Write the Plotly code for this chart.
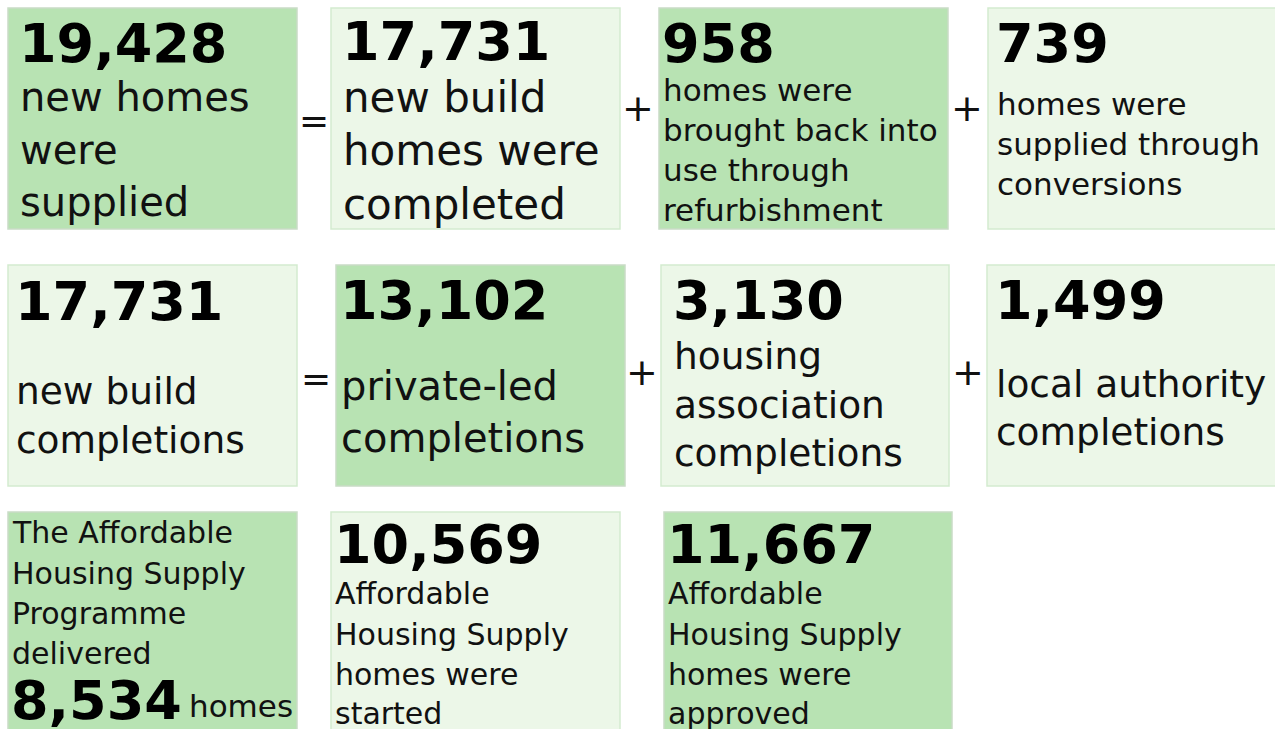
import plotly.graph_objects as go

# ---------------- data ----------------
numbers = ["19,428", "17,731", "958", "739",
           "17,731", "13,102", "3,130", "1,499",
           "8,534", "10,569", "11,667"]
labels = [
    ["new homes", "were", "supplied"],
    ["new build", "homes were", "completed"],
    ["homes were", "brought back into", "use through", "refurbishment"],
    ["homes were", "supplied through", "conversions"],
    ["new build", "completions"],
    ["private-led", "completions"],
    ["housing", "association", "completions"],
    ["local authority", "completions"],
    ["The Affordable", "Housing Supply", "Programme", "delivered"],
    ["Affordable", "Housing Supply", "homes were", "started"],
    ["Affordable", "Housing Supply", "homes were", "approved"],
]
suffix_8534 = "homes"
operators = ["=", "+", "+", "=", "+", "+"]

# ---------------- layout (positions / styles) ----------------
DARK = "#b8e3b3"
LIGHT = "#ecf7e8"
DARK_LINE = "#c9dcc6"
LIGHT_LINE = "#d3ebcf"

boxes = [  # x0, x1, y0, y1, dark?
    (8, 297, 8, 229, True), (331, 620, 8, 229, False),
    (659, 948, 8, 229, True), (988, 1290, 8, 229, False),
    (8, 297, 265, 486, False), (336, 625, 265, 486, True),
    (661, 949, 265, 486, False), (987, 1290, 265, 486, False),
    (8, 297, 512, 750, True), (331, 620, 512, 750, False),
    (664, 952, 512, 750, True),
]
text_x = [20, 343, 663, 997, 16, 341, 674, 996, 12, 335, 668]
num_y = [43, 41, 43, 43, 301, 300, 300, 300, 700, 544, 544]
line_y = [
    [97, 150, 202], [97, 150, 204], [90, 130, 170, 210], [104, 144, 184],
    [391, 440], [386, 438], [356, 405, 453], [384, 432],
    [532, 573, 613, 653], [593, 634, 674, 713], [593, 634, 674, 713],
]
label_size = [40, 42, 31, 31, 37.5, 40, 37.5, 37.5, 30, 30, 30]
NUM_SIZE = 54
op_pos = [(314, 120), (638, 108), (967, 108), (316, 378), (642, 372), (968, 372)]
op_size = [36, 38, 38, 36, 38, 38]
FONT = "DejaVu Sans"

fig = go.Figure()
shapes = []
annotations = []
for i, (x0, x1, y0, y1, dark) in enumerate(boxes):
    shapes.append(dict(type="rect", x0=x0, x1=x1, y0=y0, y1=y1, xref="x", yref="y",
                       fillcolor=DARK if dark else LIGHT,
                       line=dict(color=DARK_LINE if dark else LIGHT_LINE, width=1.5),
                       layer="below"))
    annotations.append(dict(x=text_x[i] - 3, y=num_y[i], xref="x", yref="y",
                            text="<b>" + numbers[i] + "</b>", showarrow=False,
                            xanchor="left", yanchor="middle",
                            font=dict(family=FONT, size=NUM_SIZE, color="#000000")))
    for ln, yy in zip(labels[i], line_y[i]):
        annotations.append(dict(x=text_x[i] - 2, y=yy, xref="x", yref="y", text=ln,
                                showarrow=False, xanchor="left", yanchor="middle",
                                font=dict(family=FONT, size=label_size[i], color="#111111")))

annotations.append(dict(x=187, y=706, xref="x", yref="y", text=suffix_8534,
                        showarrow=False, xanchor="left", yanchor="middle",
                        font=dict(family=FONT, size=31, color="#111111")))

for op, (ox, oy), s in zip(operators, op_pos, op_size):
    annotations.append(dict(x=ox, y=oy, xref="x", yref="y", text=op, showarrow=False,
                            xanchor="center", yanchor="middle",
                            font=dict(family=FONT, size=s, color="#111111")))

fig.update_layout(
    width=1275, height=729, autosize=False,
    margin=dict(l=0, r=0, t=0, b=0),
    paper_bgcolor="white", plot_bgcolor="white",
    xaxis=dict(range=[0, 1275], visible=False, fixedrange=True),
    yaxis=dict(range=[729, 0], visible=False, fixedrange=True),
    shapes=shapes, annotations=annotations, showlegend=False,
)
fig.write_html(
    "out.html",
    config={"displayModeBar": False},
    post_script="document.body.style.margin='0';document.body.style.overflow='hidden';",
)
